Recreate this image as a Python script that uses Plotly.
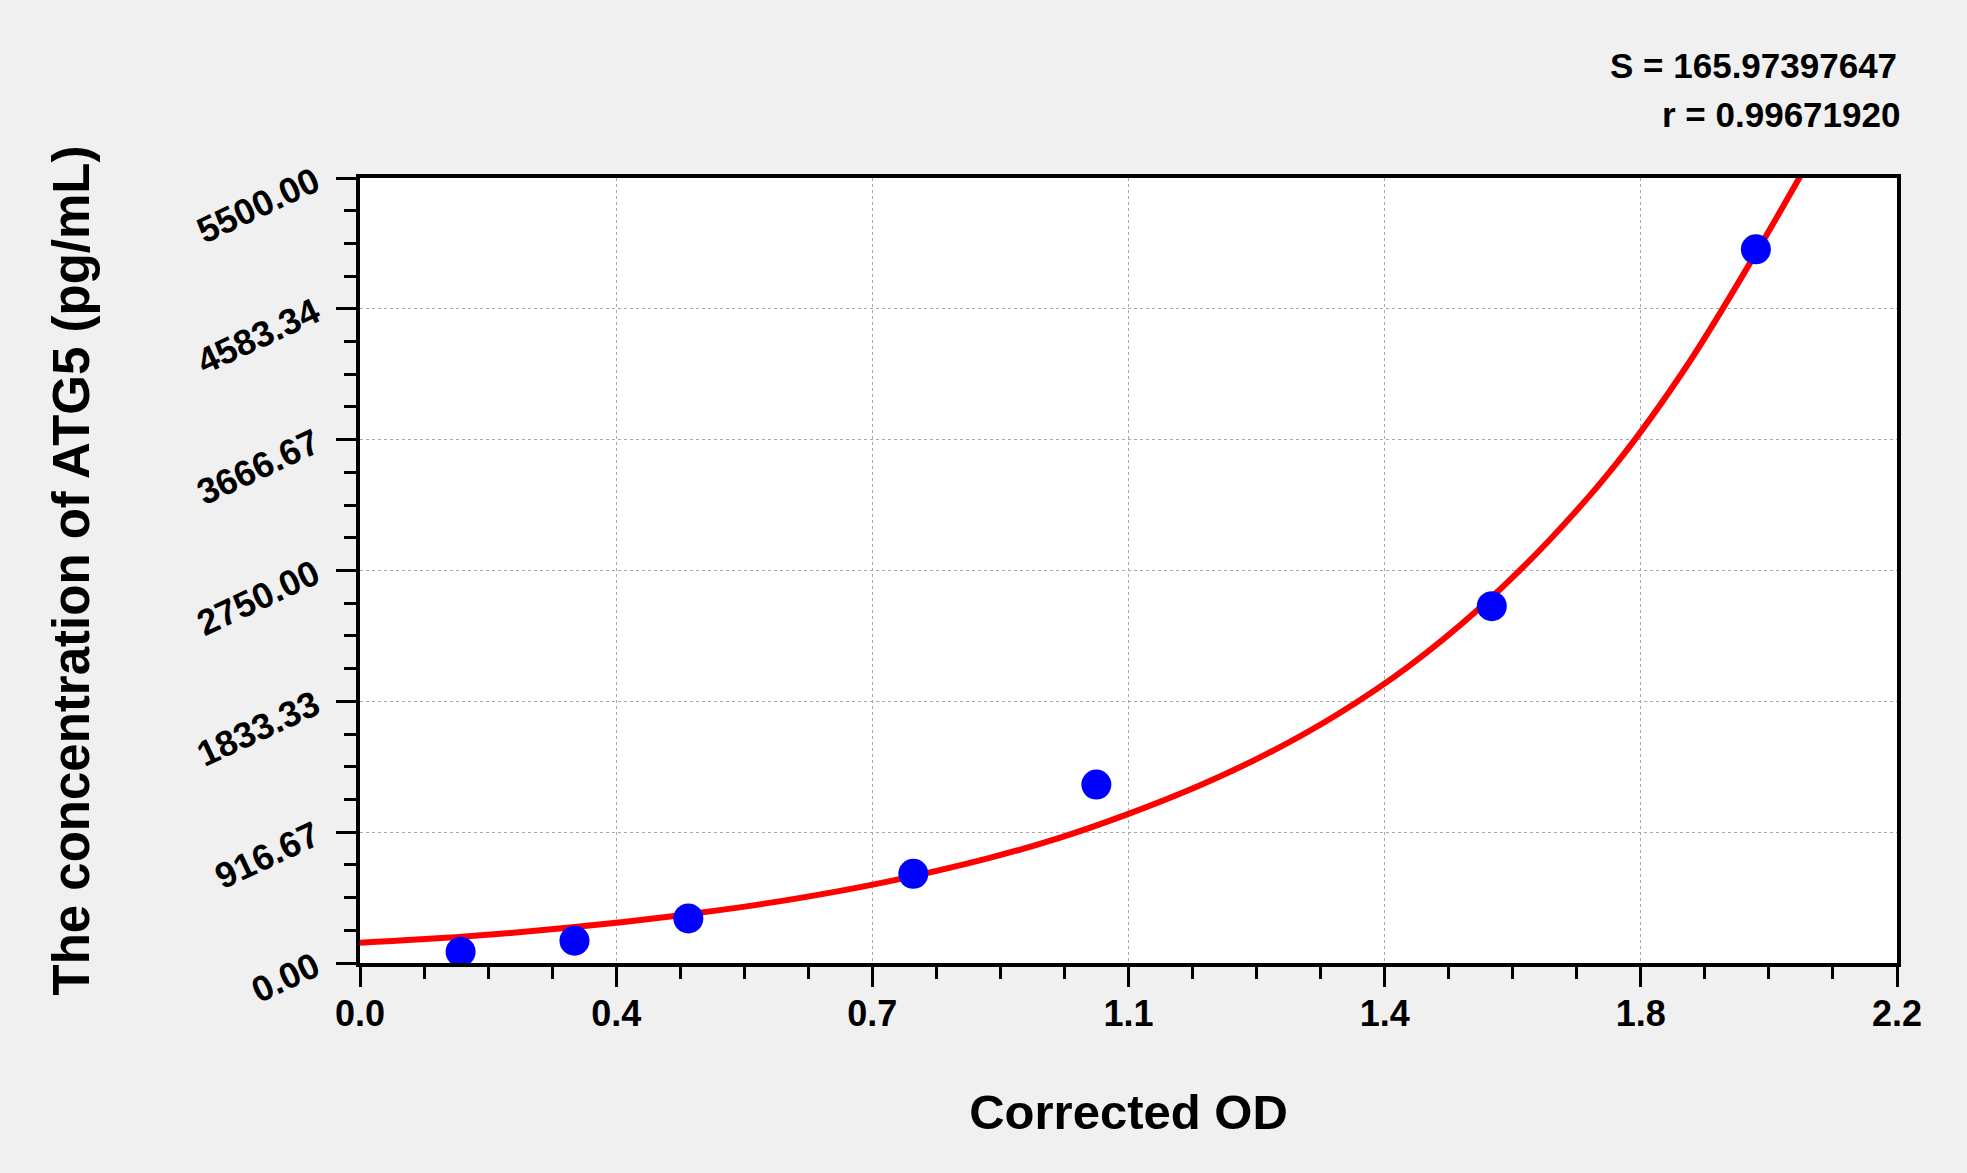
import plotly.graph_objects as go

# Standard points (Corrected OD vs concentration)
od_values = [0.144, 0.307, 0.470, 0.792, 1.054, 1.620, 1.998]
conc_values = [78.125, 156.25, 312.5, 625, 1250, 2500, 5000]

# Fitted curve
curve_od = [0.0, 0.15, 0.30, 0.45, 0.60, 0.75, 0.90, 1.00, 1.10, 1.20,
            1.30, 1.40, 1.50, 1.60, 1.70, 1.80, 1.90, 2.00, 2.067]
curve_conc = [142, 185, 248, 330, 432, 565, 735, 875, 1045, 1240,
              1470, 1745, 2075, 2475, 2950, 3510, 4190, 4990, 5560]

x_tickvals = [0.0, 0.36667, 0.73333, 1.1, 1.46667, 1.83333, 2.2]
x_ticktext = ["0.0", "0.4", "0.7", "1.1", "1.4", "1.8", "2.2"]
y_tickvals = [0.0, 916.67, 1833.33, 2750.0, 3666.67, 4583.34, 5500.0]
y_ticktext = ["0.00", "916.67", "1833.33", "2750.00", "3666.67", "4583.34", "5500.00"]

stats_text = ["S = 165.97397647", "r = 0.99671920"]
x_title = "Corrected OD"
y_title = "The concentration of ATG5 (pg/mL)"

FONT = "Liberation Sans, Arial, sans-serif"

fig = go.Figure()
fig.add_trace(go.Scatter(
    x=curve_od, y=curve_conc, mode="lines",
    line=dict(color="#ff0000", width=6, shape="spline"),
    hoverinfo="skip", showlegend=False,
))
fig.add_trace(go.Scatter(
    x=od_values, y=conc_values, mode="markers",
    marker=dict(color="#0000ff", size=30, line=dict(width=0)),
    showlegend=False, cliponaxis=False,
))

fig.update_layout(
    width=1967, height=1173,
    paper_bgcolor="#f0f0f0", plot_bgcolor="#ffffff",
    margin=dict(l=360, r=70, t=178, b=210),
    font=dict(family=FONT, color="#000000"),
    showlegend=False,
)

fig.update_xaxes(
    range=[0, 2.2], tickmode="array", tickvals=x_tickvals, ticktext=x_ticktext,
    showline=True, linecolor="#000000", linewidth=4, mirror=True,
    ticks="outside", ticklen=20, tickwidth=3, tickcolor="#000000",
    ticklabelstandoff=-4,
    tickfont=dict(family=FONT, size=36, weight="bold"),
    showgrid=True, gridcolor="#a8a8a8", gridwidth=1, griddash="dot",
    zeroline=False,
    minor=dict(tick0=0, dtick=2.2 / 24, ticks="outside", ticklen=12,
               tickwidth=3, tickcolor="#000000", showgrid=False),
    title=dict(text=x_title, font=dict(family=FONT, size=49, weight="bold"), standoff=62),
)
fig.update_yaxes(
    range=[0, 5500], tickmode="array", tickvals=y_tickvals, ticktext=y_ticktext,
    showline=True, linecolor="#000000", linewidth=4, mirror=True,
    ticks="outside", ticklen=20, tickwidth=3, tickcolor="#000000",
    tickangle=-25, ticklabelstandoff=14,
    tickfont=dict(family=FONT, size=36, weight="bold"),
    showgrid=True, gridcolor="#a8a8a8", gridwidth=1, griddash="dot",
    zeroline=False,
    minor=dict(tick0=0, dtick=5500 / 24, ticks="outside", ticklen=12,
               tickwidth=3, tickcolor="#000000", showgrid=False),
)

# y-axis title placed as a rotated annotation
fig.add_annotation(
    text=y_title, xref="paper", yref="paper", x=(71 - 360) / 1537, y=0.5,
    xanchor="center", yanchor="middle", textangle=-90, showarrow=False,
    font=dict(family=FONT, size=51, weight="bold"),
)

fig.add_annotation(
    text=stats_text[0], xref="paper", yref="paper", x=1.0, y=1.0,
    xanchor="right", yanchor="bottom", xshift=2, yshift=91, showarrow=False,
    font=dict(family=FONT, size=35, weight="bold"),
)
fig.add_annotation(
    text=stats_text[1], xref="paper", yref="paper", x=1.0, y=1.0,
    xanchor="right", yanchor="bottom", xshift=5, yshift=42, showarrow=False,
    font=dict(family=FONT, size=35, weight="bold"),
)

fig.write_html(
    "out.html",
    config={"displayModeBar": False},
    post_script="document.body.style.margin='0';document.body.style.background='#f0f0f0';",
)
